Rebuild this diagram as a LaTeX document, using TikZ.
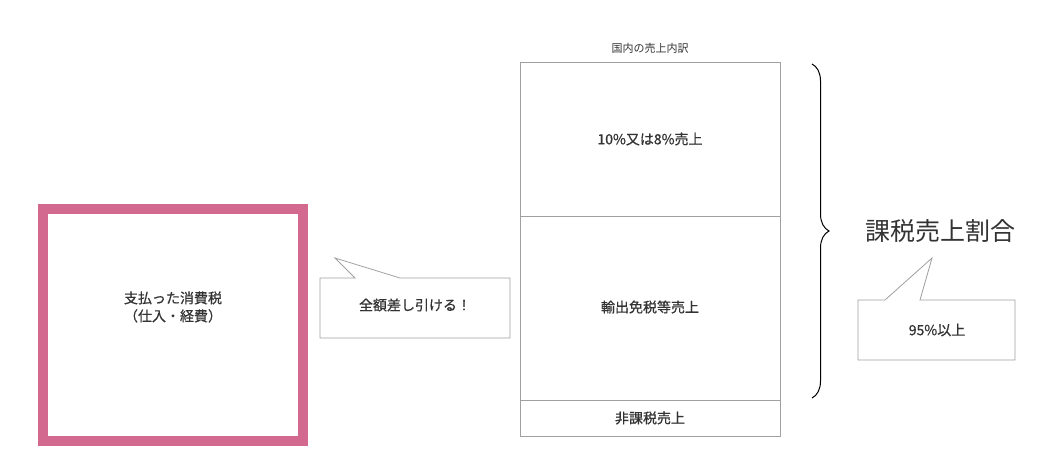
\documentclass[tikz,border=0pt]{standalone}
\usepackage{fontspec}
\setmainfont{Noto Sans CJK JP}
\newfontfamily\medf{Noto Sans CJK JP}[FakeBold=0.6]
\usetikzlibrary{decorations.pathreplacing}
\definecolor{pk}{HTML}{D4698F}
\definecolor{gl}{HTML}{A0A0A0}
\definecolor{tx}{HTML}{333333}
\begin{document}
\begin{tikzpicture}[x=1pt,y=-1pt,
  box/.style={draw=gl,line width=0.8pt},
  lbl/.style={text=tx,font=\fontsize{14}{18}\medf,align=center}]
\useasboundingbox (0,0) rectangle (1048,455);
% pink box
\draw[pk,line width=10pt] (43,209) rectangle (303,441);
\node[lbl] (pay) at (173,307) {支払った消費税\\（仕入・経費）};
% callout 1
\draw[box,fill=white] (320,278) -- (355,278) -- (335,258) -- (400,278) -- (510,278) -- (510,338) -- (320,338) -- cycle;
\node[lbl] (c1) at (415,305) {全額差し引ける！};
% tall box
\draw[box] (520,62) rectangle (780,436);
\draw[box] (520,216) -- (780,216);
\draw[box] (520,400) -- (780,400);
\node[lbl,font=\fontsize{11}{13}\selectfont] (t) at (650,48) {国内の売上内訳};
\node[lbl] (a) at (650,139) {10\%又は8\%売上};
\node[lbl] (b) at (650,307) {輸出免税等売上};
\node[lbl] (c) at (650,418) {非課税売上};
% brace
\draw[line width=1pt,decorate,decoration={brace,amplitude=17pt,aspect=0.5}] (812,64) -- (812,398);
\node[lbl,font=\fontsize{25}{28}\selectfont,anchor=west] (r) at (862,231) {課税売上割合};
% callout 2
\draw[box,fill=white] (858,300) -- (885,300) -- (932,258) -- (920,300) -- (1015,300) -- (1015,360) -- (858,360) -- cycle;
\node[lbl] (c2) at (937,330) {95\%以上};
\end{tikzpicture}
\end{document}
